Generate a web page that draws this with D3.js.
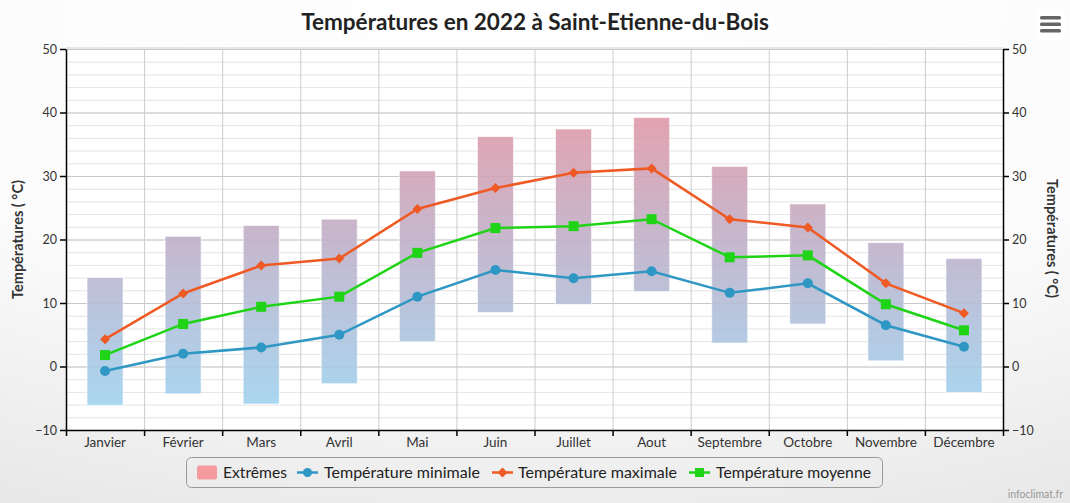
<!DOCTYPE html>
<html><head><meta charset="utf-8">
<script src="https://cdn.jsdelivr.net/npm/d3@7"></script>
<style>
html,body{margin:0;padding:0;background:#fff;}
svg{display:block;font-family:Lato,"DejaVu Sans",sans-serif;}
</style></head>
<body><svg id="c" width="1070" height="503"></svg>
<script>
const months = ["Janvier","Février","Mars","Avril","Mai","Juin","Juillet","Aout","Septembre","Octobre","Novembre","Décembre"];
const extremeMin = [-6.1,-4.3,-5.9,-2.7,3.9,8.5,9.8,11.8,3.7,6.7,0.9,-4.1];
const extremeMax = [14.0,20.5,22.2,23.2,30.8,36.2,37.4,39.2,31.5,25.6,19.5,17.0];
const tempMin = [-0.7,2.0,3.0,5.0,11.0,15.2,13.9,15.0,11.6,13.1,6.5,3.1];
const tempMax = [4.3,11.5,15.9,17.0,24.8,28.1,30.5,31.2,23.2,21.9,13.1,8.4];
const tempMoy = [1.8,6.7,9.4,11.0,17.9,21.8,22.1,23.2,17.2,17.5,9.8,5.7];
const yTicks = [-10,0,10,20,30,40,50];
const yMinor = d3.range(-10,51,2);

const svg = d3.select("#c");
const W=1070,H=503;
const L=66,R=1003,T=49,B=430;

const defs = svg.append("defs");
const bg = defs.append("radialGradient").attr("id","bg").attr("cx","0.5").attr("cy","0").attr("r","1.1");
bg.append("stop").attr("offset","0").attr("stop-color","#ffffff");
bg.append("stop").attr("offset","0.6").attr("stop-color","#fbfbfb");
bg.append("stop").attr("offset","1").attr("stop-color","#e8e8e8");
svg.append("rect").attr("width",W).attr("height",H).attr("fill","url(#bg)");

const y = d3.scaleLinear().domain([-10,50]).range([B,T]);
const x = d3.scaleBand().domain(months).range([L,R]).paddingInner(0).paddingOuter(0);
const xb = d3.scaleLinear().domain([0,12]).range([L,R]);

const grad = defs.append("linearGradient").attr("id","barg").attr("gradientUnits","userSpaceOnUse")
  .attr("x1",0).attr("x2",0).attr("y1",y(50)).attr("y2",y(-10));
grad.append("stop").attr("offset","0").attr("stop-color","rgb(240,140,150)");
grad.append("stop").attr("offset","0.5").attr("stop-color","rgb(192,176,200)");
grad.append("stop").attr("offset","1").attr("stop-color","rgb(155,215,245)");

// plot background
svg.append("rect").attr("x",L).attr("y",T).attr("width",R-L).attr("height",B-T).attr("fill","#fff");
svg.append("line").attr("x1",L).attr("x2",R).attr("y1",T-1).attr("y2",T-1).attr("stroke","#e6e6e6").attr("stroke-width",2);

// minor grid
svg.append("g").attr("transform",`translate(${L},0)`)
  .call(d3.axisLeft(y).tickValues(yMinor).tickSize(-(R-L)).tickFormat(""))
  .call(g=>{g.select(".domain").remove(); g.selectAll("line").attr("stroke","#e4e4e4");});
// major grid
svg.append("g").attr("transform",`translate(${L},0)`)
  .call(d3.axisLeft(y).tickValues(yTicks).tickSize(-(R-L)).tickFormat(""))
  .call(g=>{g.select(".domain").remove(); g.selectAll("line").attr("stroke","#c8c8c8");});
// vertical grid
svg.append("g").attr("transform",`translate(0,${T})`)
  .call(d3.axisBottom(xb).tickValues(d3.range(1,12)).tickSize(B-T).tickFormat(""))
  .call(g=>{g.select(".domain").remove(); g.selectAll("line").attr("stroke","#cccccc");});

// bars
const bw = 36;
svg.append("g").selectAll("rect").data(months).join("rect")
  .attr("x",d=>x(d)+x.bandwidth()/2-bw/2)
  .attr("width",bw)
  .attr("y",(d,i)=>y(extremeMax[i]))
  .attr("height",(d,i)=>y(extremeMin[i])-y(extremeMax[i]))
  .attr("fill","url(#barg)").attr("fill-opacity",0.9)
  .attr("stroke","#fff").attr("stroke-opacity",0.6).attr("stroke-width",1);

const cx = d=>x(d)+x.bandwidth()/2;
const line = arr => d3.line().x((d,i)=>cx(months[i])).y(d=>y(d))(arr);

const cMin="#2f97c4", cMax="#ef5a24", cMoy="#1fd416";
// min
svg.append("path").attr("d",line(tempMin)).attr("fill","none").attr("stroke",cMin).attr("stroke-width",2.5);
svg.append("g").selectAll("circle").data(tempMin).join("circle")
  .attr("cx",(d,i)=>cx(months[i])).attr("cy",d=>y(d)).attr("r",5).attr("fill",cMin);
// moyenne
svg.append("path").attr("d",line(tempMoy)).attr("fill","none").attr("stroke",cMoy).attr("stroke-width",2.5);
svg.append("g").selectAll("rect").data(tempMoy).join("rect")
  .attr("x",(d,i)=>cx(months[i])-5).attr("y",d=>y(d)-5).attr("width",10).attr("height",10).attr("fill",cMoy);
// max
svg.append("path").attr("d",line(tempMax)).attr("fill","none").attr("stroke",cMax).attr("stroke-width",2.5);
svg.append("g").selectAll("path").data(tempMax).join("path")
  .attr("d",d3.symbol().type(d3.symbolSquare).size(50))
  .attr("transform",(d,i)=>`translate(${cx(months[i])},${y(d)}) rotate(45)`)
  .attr("fill",cMax);

// axes
const axStyle = g=>{
  g.select(".domain").attr("stroke","#000").attr("stroke-width",1.5);
  g.selectAll(".tick line").attr("stroke","#000").attr("stroke-width",1.5);
  g.selectAll("text").attr("fill","#333").attr("font-size",12.5).attr("font-family","Lato, sans-serif");
};
svg.append("g").attr("transform",`translate(${L},0)`)
  .call(d3.axisLeft(y).tickValues(yTicks).tickSize(6).tickSizeOuter(0).tickPadding(3))
  .call(axStyle);
svg.append("g").attr("transform",`translate(${R},0)`)
  .call(d3.axisRight(y).tickValues(yTicks).tickSize(6).tickSizeOuter(0).tickPadding(3))
  .call(axStyle);
svg.append("g").attr("transform",`translate(0,${B})`)
  .call(d3.axisBottom(xb).tickValues(d3.range(0,13)).tickSize(6).tickSizeOuter(0).tickFormat(""))
  .call(axStyle);
svg.append("g").attr("transform",`translate(0,${B})`)
  .call(d3.axisBottom(x).tickSize(0).tickPadding(7))
  .call(g=>{g.select(".domain").remove();})
  .call(g=>g.selectAll("text").attr("fill","#333").attr("font-size",13.5).attr("font-family","Lato, sans-serif"));

// axis titles
svg.append("text").attr("transform",`translate(23,${(T+B)/2}) rotate(-90)`)
  .attr("text-anchor","middle").attr("font-weight","bold").attr("font-size",14.5).attr("fill","#333")
  .text("Températures ( °C)");
svg.append("text").attr("transform",`translate(1047,${(T+B)/2-1}) rotate(90)`)
  .attr("text-anchor","middle").attr("font-weight","bold").attr("font-size",14.5).attr("fill","#333")
  .text("Températures ( °C)");

// title
svg.append("text").attr("x",535).attr("y",30).attr("text-anchor","middle")
  .attr("font-weight","bold").attr("font-size",22.5).attr("fill","#222")
  .text("Températures en 2022 à Saint-Etienne-du-Bois");

// menu button
svg.append("rect").attr("x",1035).attr("y",10).attr("width",30).attr("height",30).attr("rx",3).attr("fill","#fff");
[0,1,2].forEach(k=>svg.append("rect").attr("x",1040).attr("y",16+k*6.5).attr("width",21).attr("height",3.5).attr("rx",1.5).attr("fill","#666"));

// legend
const lg = svg.append("g");
lg.append("rect").attr("x",186.5).attr("y",457.5).attr("width",696).attr("height",30).attr("rx",5)
  .attr("fill","none").attr("stroke","#999").attr("stroke-width",1);
const legendItems = [
  {label:"Extrêmes", x:197, tx:223, w:64, type:"bar"},
  {label:"Température minimale", x:297, tx:324, w:156, type:"min", color:cMin},
  {label:"Température maximale", x:492, tx:518, w:159, type:"max", color:cMax},
  {label:"Température moyenne", x:689, tx:716, w:155, type:"moy", color:cMoy}
];
legendItems.forEach(it=>{
  const ly = 472.5;
  if(it.type==="bar"){
    lg.append("rect").attr("x",it.x).attr("y",ly-7).attr("width",20).attr("height",14).attr("rx",2).attr("fill","rgb(245,155,160)");
  } else {
    lg.append("line").attr("x1",it.x).attr("x2",it.x+21).attr("y1",ly).attr("y2",ly).attr("stroke",it.color).attr("stroke-width",2.5);
    const mx = it.x+10.5;
    if(it.type==="min") lg.append("circle").attr("cx",mx).attr("cy",ly).attr("r",4.5).attr("fill",it.color);
    if(it.type==="max") lg.append("rect").attr("x",mx-3.5).attr("y",ly-3.5).attr("width",7).attr("height",7).attr("transform",`rotate(45,${mx},${ly})`).attr("fill",it.color);
    if(it.type==="moy") lg.append("rect").attr("x",mx-4.5).attr("y",ly-4.5).attr("width",9).attr("height",9).attr("fill",it.color);
  }
  lg.append("text").attr("x",it.tx).attr("y",ly+5.5).attr("font-size",16).attr("fill","#222")
    .attr("textLength",it.w).attr("lengthAdjust","spacingAndGlyphs").text(it.label);
});

// credits
svg.append("text").attr("x",1063).attr("y",498).attr("text-anchor","end").attr("font-size",10.5).attr("fill","#999").text("infoclimat.fr");
</script></body></html>
